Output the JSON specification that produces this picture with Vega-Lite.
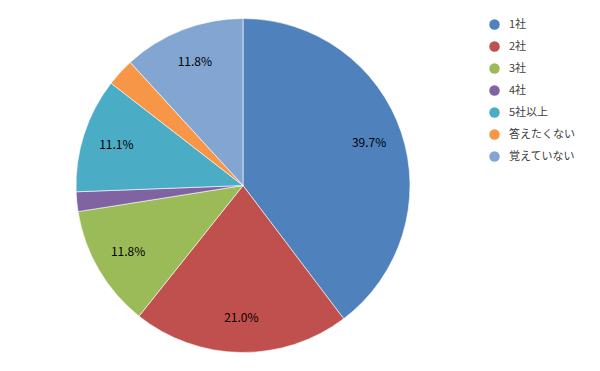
{
  "$schema": "https://vega.github.io/schema/vega-lite/v6.json",
  "width": 486,
  "height": 371,
  "autosize": {"type": "none"},
  "padding": {"left": 0, "top": 0, "right": 114, "bottom": 0},
  "background": "white",
  "config": {"view": {"stroke": null}, "font": "Noto Sans CJK JP"},
  "data": {
    "values": [
      {"cat": "1社", "ord": 1, "v": 0.397},
      {"cat": "2社", "ord": 2, "v": 0.210},
      {"cat": "3社", "ord": 3, "v": 0.118},
      {"cat": "4社", "ord": 4, "v": 0.019},
      {"cat": "5社以上", "ord": 5, "v": 0.111},
      {"cat": "答えたくない", "ord": 6, "v": 0.027},
      {"cat": "覚えていない", "ord": 7, "v": 0.118}
    ]
  },
  "encoding": {
    "theta": {"field": "v", "type": "quantitative", "stack": true},
    "order": {"field": "ord", "type": "quantitative"}
  },
  "layer": [
    {
      "mark": {"type": "arc", "outerRadius": 167, "stroke": "white", "strokeWidth": 0.6},
      "encoding": {
        "color": {
          "field": "cat",
          "type": "nominal",
          "scale": {
            "domain": ["1社", "2社", "3社", "4社", "5社以上", "答えたくない", "覚えていない"],
            "range": ["#4F81BD", "#C0504D", "#9BBB59", "#8064A2", "#4BACC6", "#F79646", "#82A6D1"]
          },
          "legend": {
            "title": null,
            "orient": "none",
            "legendX": 489,
            "legendY": 19,
            "padding": 0,
            "symbolType": "circle",
            "symbolSize": 110,
            "symbolStrokeWidth": 0,
            "labelFontSize": 11,
            "labelColor": "#404040",
            "labelOffset": 9,
            "rowPadding": 10,
            "labelFont": "Noto Sans CJK JP"
          }
        }
      }
    },
    {
      "mark": {"type": "text", "radius": 133, "fontSize": 12, "color": "black", "font": "Noto Sans CJK JP"},
      "encoding": {
        "text": {"field": "v", "type": "quantitative", "format": ".1%"},
        "opacity": {"condition": {"test": "datum.v < 0.05", "value": 0}, "value": 1}
      }
    }
  ]
}
